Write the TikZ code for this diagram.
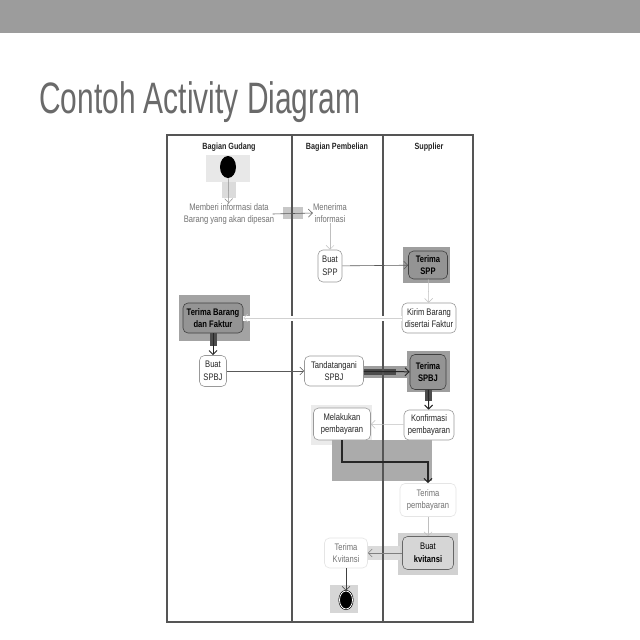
\documentclass[tikz,border=0pt]{standalone}
\usepackage{fontspec}
\setmainfont{Liberation Sans}
\newfontfamily\narrowfont[FakeStretch=0.8]{Liberation Sans}
\newfontfamily\titlefont[FakeStretch=0.68]{Liberation Sans}
\usetikzlibrary{arrows.meta,shapes.geometric}
\definecolor{framec}{HTML}{555555}
\definecolor{titlec}{HTML}{6A6A6A}
\definecolor{barc}{HTML}{9C9C9C}
\begin{document}
\begin{tikzpicture}[x=1pt,y=-1pt,
  act/.style={rectangle, rounded corners=5pt, draw=black!40, fill=white, text=black!85,
    font=\narrowfont\fontsize{9.5}{12.5}\selectfont, align=center, inner sep=0pt, line width=0.6pt},
  actdark/.style={act, fill=black!42, draw=black!75, text=black, font=\narrowfont\bfseries\fontsize{9.5}{12.5}\selectfont},
  actlight/.style={act, fill=black!16, draw=black!60, text=black, font=\narrowfont\fontsize{9.5}{12.5}\selectfont},
  faded/.style={act, draw=black!10, text=black!55},
  bare/.style={act, draw=none, fill=none, text=black!55},
  lane/.style={font=\narrowfont\bfseries\fontsize{9}{10}\selectfont, text=black!85},
  tip/.style={-{Straight Barb[length=4pt,width=8pt]}},
  thinarrow/.style={tip, draw=black!65, line width=0.6pt},
  fadearrow/.style={tip, draw=black!25, line width=0.5pt},
  thickarrow/.style={tip, draw=black!85, line width=1pt},
  band/.style={fill=black!70}]
\useasboundingbox (0,0) rectangle (640,640);
\fill[white] (0,0) rectangle (640,640);
% top bar and title
\fill[barc] (0,0) rectangle (640,33);
\node[anchor=base west, inner sep=0pt, text=titlec, font=\titlefont\fontsize{44}{48}\selectfont] (title) at (39,113) {Contoh Activity Diagram};
% highlight boxes
\fill[black!9] (206,155) rectangle (250,182);
\fill[black!14] (222,182) rectangle (236,198);
\fill[black!22] (283,207) rectangle (303,219);
\fill[black!38] (403,247) rectangle (450,283);
\fill[black!36] (179,295) rectangle (250,341);
\fill[black!38] (407,351) rectangle (450,392);
\fill[black!38] (364,366) rectangle (410,378);
\fill[black!8] (311,405) rectangle (372,445);
\fill[black!33] (332,440) rectangle (432,481);
\fill[black!18] (398,533) rectangle (458,575);
\fill[black!14] (368,546) rectangle (400,560);
\fill[black!16] (330,585) rectangle (358,613);
% dark bands of the thick flows
\fill[band] (209.5,333) rectangle (216.5,346);
\fill[band] (364,368.5) rectangle (396,375);
\fill[band] (424.5,390) rectangle (431.5,401);
% swimlanes
\draw[framec, line width=1.1pt] (167,135) rectangle (473,622);
\draw[framec, line width=1.1pt] (292,135) -- (292,622);
\draw[framec, line width=1.1pt] (383,135) -- (383,622);
\node[lane] (h1) at (229,147) {Bagian Gudang};
\node[lane] (h2) at (337,147) {Bagian Pembelian};
\node[lane] (h3) at (429,147) {Supplier};
% nodes
\node[ellipse, fill=black, minimum width=16pt, minimum height=22pt, inner sep=0pt] (start) at (228,167) {};
\node[bare] (memberi) at (229,214) {Memberi informasi data\\Barang yang akan dipesan};
\node[bare] (menerima) at (330,213) {Menerima\\informasi};
\node[act, minimum width=24pt, minimum height=32pt] (buatspp) at (330,266) {Buat\\SPP};
\node[actdark, minimum width=39pt, minimum height=28pt] (terimaspp) at (428,265) {Terima\\SPP};
\node[act, minimum width=54pt, minimum height=30pt] (kirim) at (429,318) {Kirim Barang\\disertai Faktur};
\node[actdark, minimum width=60pt, minimum height=30pt] (terimabarang) at (213,318) {Terima Barang\\dan Faktur};
\node[act, minimum width=27pt, minimum height=31pt] (buatspbj) at (213,371) {Buat\\SPBJ};
\node[act, minimum width=59pt, minimum height=30pt] (tanda) at (334,371) {Tandatangani\\SPBJ};
\node[actdark, minimum width=36pt, minimum height=35pt] (terimaspbj) at (428,372) {Terima\\SPBJ};
\node[act, minimum width=50pt, minimum height=30pt] (konfirmasi) at (429,425) {Konfirmasi\\pembayaran};
\node[act, minimum width=57pt, minimum height=32pt] (melakukan) at (342,424) {Melakukan\\pembayaran};
\node[faded, minimum width=56pt, minimum height=33pt] (terimabayar) at (428,500) {Terima\\pembayaran};
\node[actlight, minimum width=51pt, minimum height=33pt] (buatkv) at (428,553) {Buat\\\textbf{kvitansi}};
\node[faded, minimum width=43pt, minimum height=30pt] (terimakv) at (346,553) {Terima\\Kvitansi};
\node[ellipse, fill=black, draw=black, double=white, double distance=0.8pt, line width=0.6pt, minimum width=13pt, minimum height=18pt, inner sep=0pt] (end) at (346,600) {};
% connectors
\draw[fadearrow, draw=black!45] (start) -- (memberi);
\draw[thinarrow] (memberi.east) ++(-2,0) coordinate (m1) (m1) -- (menerima.west);
\draw[fadearrow] (menerima) -- (buatspp);
\draw[thinarrow] (buatspp) -- (terimaspp);
\draw[fadearrow] (terimaspp) -- (kirim);
\draw[white, line width=5pt] (kirim.west) -- (terimabarang.east);
\draw[fadearrow, draw=black!18] (kirim.west) -- (terimabarang.east);
\draw[thickarrow] (terimabarang) -- (buatspbj);
\draw[thinarrow] (buatspbj) -- (tanda);
\draw[thickarrow] (tanda) -- (terimaspbj);
\draw[thickarrow] (terimaspbj) -- (konfirmasi);
\draw[fadearrow] (konfirmasi) -- (melakukan);
\coordinate (bend) at (342,462);
\draw[tip, draw=black!85, line width=1.1pt] (melakukan.south) |- (bend) -| (terimabayar.north);
\draw[fadearrow] (terimabayar) -- (buatkv);
\draw[thinarrow, draw=black!50] (buatkv) -- (terimakv);
\draw[thinarrow, draw=black!75] (terimakv) -- (end);
\end{tikzpicture}
\end{document}
